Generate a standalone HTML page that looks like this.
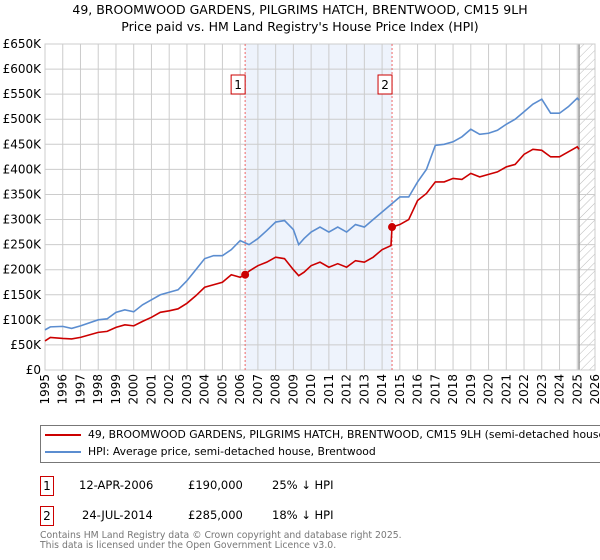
<!DOCTYPE html>
<html><head><meta charset="utf-8"><style>
body{margin:0;background:#fff;font-family:"DejaVu Sans","Liberation Sans",sans-serif;}
#wrap{position:relative;width:600px;height:560px;overflow:hidden;}
.t{position:absolute;white-space:nowrap;color:#000;}
.box{position:absolute;border:1px solid #c00;width:12px;height:18px;text-align:center;font-size:12px;line-height:18px;}
</style></head><body><div id="wrap">
<div class="t" style="left:0;width:600px;text-align:center;top:2px;font-size:12.5px">49, BROOMWOOD GARDENS, PILGRIMS HATCH, BRENTWOOD, CM15 9LH</div>
<div class="t" style="left:0;width:600px;text-align:center;top:19px;font-size:12.5px">Price paid vs. HM Land Registry's House Price Index (HPI)</div>
<svg id="chart" width="600" height="420" style="position:absolute;left:0;top:0" font-family="DejaVu Sans, Liberation Sans, sans-serif">
<defs><pattern id="hatch" width="6" height="6" patternUnits="userSpaceOnUse" patternTransform="rotate(45)"><line x1="0" y1="0" x2="0" y2="6" stroke="#bbb" stroke-width="1"/></pattern></defs>
<g id="g"></g></svg>
<div style="position:absolute;left:40px;top:425px;width:600px;height:36px;border:1px solid #777;font-size:10.8px">
<div><div style="position:absolute;left:4px;top:8px;width:36px;height:2px;background:#c00"></div><div class="t" style="left:47px;top:2px">49, BROOMWOOD GARDENS, PILGRIMS HATCH, BRENTWOOD, CM15 9LH (semi-detached house)</div></div>
<div><div style="position:absolute;left:4px;top:25px;width:36px;height:2px;background:#5b8dd0"></div><div class="t" style="left:47px;top:19px">HPI: Average price, semi-detached house, Brentwood</div></div>
</div>
<div style="font-size:11.5px">
<div class="box" style="left:40px;top:476px">1</div>
<div class="t" style="left:79px;top:478px">12-APR-2006</div><div class="t" style="left:188px;top:478px">£190,000</div><div class="t" style="left:272px;top:478px">25% ↓ HPI</div></div>
<div style="font-size:11.5px">
<div class="box" style="left:40px;top:506px">2</div>
<div class="t" style="left:82px;top:508px">24-JUL-2014</div><div class="t" style="left:188px;top:508px">£285,000</div><div class="t" style="left:272px;top:508px">18% ↓ HPI</div></div>
<div class="t" style="left:40px;top:531px;font-size:9.3px;color:#777;line-height:10px">Contains HM Land Registry data © Crown copyright and database right 2025.<br>This data is licensed under the Open Government Licence v3.0.</div>
</div>
<script>
const hpiYears=[1995,1995.3,1996,1996.5,1997,1998,1998.5,1999,1999.5,2000,2000.5,2001,2001.5,2002,2002.5,2003,2003.5,2004,2004.5,2005,2005.5,2006,2006.5,2007,2007.5,2008,2008.5,2009,2009.3,2009.6,2010,2010.5,2011,2011.5,2012,2012.5,2013,2013.5,2014,2014.5,2015,2015.5,2016,2016.5,2017,2017.5,2018,2018.5,2019,2019.5,2020,2020.5,2021,2021.5,2022,2022.5,2023,2023.5,2024,2024.5,2025,2025.1];
const hpiValues=[80,86,87,83,88,100,102,115,120,116,130,140,150,155,160,178,200,222,228,228,240,258,250,262,278,295,298,280,250,262,275,285,275,285,275,290,285,300,315,330,345,345,375,400,448,450,455,465,480,470,472,478,490,500,515,530,540,512,512,525,542,538];
const priceYears=[1995,1995.3,1996,1996.5,1997,1998,1998.5,1999,1999.5,2000,2000.5,2001,2001.5,2002,2002.5,2003,2003.5,2004,2004.5,2005,2005.5,2006,2006.28,2006.5,2007,2007.5,2008,2008.5,2009,2009.3,2009.6,2010,2010.5,2011,2011.5,2012,2012.5,2013,2013.5,2014,2014.5,2014.56,2015,2015.5,2016,2016.5,2017,2017.5,2018,2018.5,2019,2019.5,2020,2020.5,2021,2021.5,2022,2022.5,2023,2023.5,2024,2024.5,2025,2025.1];
const priceValues=[58,65,63,62,65,75,77,85,90,88,97,105,115,118,122,133,148,165,170,175,190,185,190,197,208,215,225,222,200,188,195,208,215,205,212,205,218,215,225,240,248,285,290,300,338,352,375,375,382,380,392,385,390,395,405,410,430,440,438,425,425,435,445,440];
const saleYears=[2006.28,2014.56];
const saleValues=[190,285];
const saleLabels=["1","2"];
const yTicks=[0,50,100,150,200,250,300,350,400,450,500,550,600,650];
const xTicks=[1995,1996,1997,1998,1999,2000,2001,2002,2003,2004,2005,2006,2007,2008,2009,2010,2011,2012,2013,2014,2015,2016,2017,2018,2019,2020,2021,2022,2023,2024,2025,2026];
const dataEnd=2025.1;
const L=45,R=595,T=44,B=370,x0=1995,x1=2026,ymax=650;
const X=v=>L+(v-x0)/(x1-x0)*(R-L), Y=v=>B-v/ymax*(B-T);
const g=document.getElementById('g'),NS='http://www.w3.org/2000/svg';
function mk(t,a,p){const e=document.createElementNS(NS,t);for(const k in a)e.setAttribute(k,a[k]);(p||g).appendChild(e);return e;}
let e=mk('rect',{x:X(saleYears[0]),y:T,width:X(saleYears[1])-X(saleYears[0]),height:B-T,fill:'#eef3fc'});


e=mk('rect',{x:X(dataEnd),y:T,width:R-X(dataEnd),height:B-T,fill:'url(#hatch)'});


yTicks.forEach(v=>{mk('line',{x1:L,x2:R,y1:Y(v),y2:Y(v),stroke:'#ccc'});
 const t=mk('text',{x:L-4,y:Y(v)+4,'text-anchor':'end','font-size':12});t.textContent=v==0?'£0':'£'+v+'K';
 
 });
xTicks.forEach(v=>{mk('line',{x1:X(v),x2:X(v),y1:T,y2:B,stroke:'#ccc'});
 const t=mk('text',{x:0,y:0,'text-anchor':'end','font-size':12,transform:`translate(${X(v)+4},${B+4}) rotate(-90)`});t.textContent=v;
 
 });
mk('line',{x1:X(dataEnd),x2:X(dataEnd),y1:T,y2:B,stroke:'#999','stroke-width':1.5});
mk('rect',{x:L,y:T,width:R-L,height:B-T,fill:'none',stroke:'#ccc'});
saleYears.forEach((s,i)=>{const l=mk('line',{x1:X(s),x2:X(s),y1:T,y2:B,stroke:'#e66','stroke-dasharray':'2,2'});
 
 
 const gg=mk('g',{});
 
 
 mk('rect',{x:X(s)-14,y:T+31,width:14,height:19,fill:'#fff',stroke:'#c00'},gg);
 const t=mk('text',{x:X(s)-7,y:T+45,'text-anchor':'middle','font-size':12},gg);t.textContent=saleLabels[i];});
function line(xs,ys,c,name){const p=mk('polyline',{points:xs.map((v,i)=>X(v)+','+Y(ys[i])).join(' '),fill:'none',stroke:c,'stroke-width':1.6});
 
 }
line(hpiYears,hpiValues,'#5b8dd0','hpi-line');
line(priceYears,priceValues,'#c00','price-line');
saleYears.forEach((s,i)=>{const c=mk('circle',{cx:X(s),cy:Y(saleValues[i]),r:4,fill:'#c00'});
 
 });
</script>
</body></html>
